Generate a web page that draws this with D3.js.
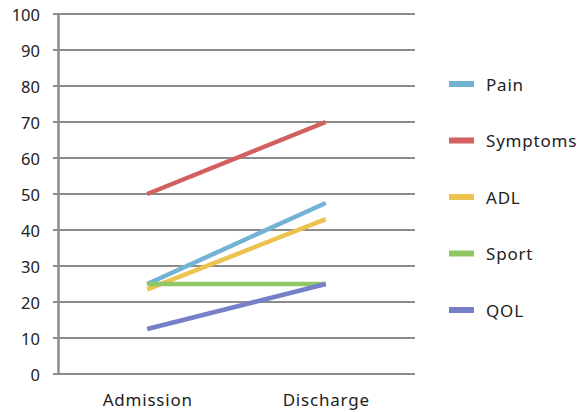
<!DOCTYPE html>
<html>
<head>
<meta charset="utf-8">
<script src="https://cdn.jsdelivr.net/npm/d3@7"></script>
<style>
  html, body { margin: 0; padding: 0; background: #fff; }
  svg { display: block; }
  text { font-family: "Noto Sans", "DejaVu Sans", sans-serif; fill: #222; }
</style>
</head>
<body>
<svg id="chart" width="587" height="412"></svg>
<script>
// Categories on the x axis
const categories = ["Admission", "Discharge"];

// Series names and their scores at each category
const seriesNames = ["Pain", "Symptoms", "ADL", "Sport", "QOL"];
const painValues = [25, 47.5];
const symptomsValues = [50, 70];
const adlValues = [23.5, 43];
const sportValues = [25, 25];
const qolValues = [12.5, 25];

// Y axis ticks
const yTicks = [0, 10, 20, 30, 40, 50, 60, 70, 80, 90, 100];

const colors = ["#72b2d4", "#d1605e", "#edc34f", "#8fc864", "#7580c9"];

const series = [painValues, symptomsValues, adlValues, sportValues, qolValues]
  .map((values, i) => ({ name: seriesNames[i], values, color: colors[i] }));

const svg = d3.select("#chart");
const margin = { left: 58, right: 172, top: 14, bottom: 38 };
const width = 587, height = 412;

const x = d3.scalePoint()
  .domain(categories)
  .range([margin.left, width - margin.right])
  .padding(0.5);

const y = d3.scaleLinear()
  .domain([0, 100])
  .range([height - margin.bottom, margin.top]);

// Horizontal gridlines
svg.append("g")
  .selectAll("line")
  .data(yTicks)
  .join("line")
  .attr("x1", margin.left - 5)
  .attr("x2", width - margin.right)
  .attr("y1", d => y(d))
  .attr("y2", d => y(d))
  .attr("stroke", "#8c8c8c")
  .attr("stroke-width", 2);

// Y axis
const yAxis = svg.append("g")
  .attr("transform", `translate(${margin.left},0)`)
  .call(d3.axisLeft(y).tickValues(yTicks).tickSize(0).tickPadding(18));
yAxis.select(".domain").attr("stroke", "#8c8c8c").attr("stroke-width", 2.5);
yAxis.selectAll("text")
  .style("font-size", "16.5px")
  .style("font-family", "\"Noto Sans\", sans-serif")
  .attr("dy", "0.4em")
  .attr("fill", "#222");

// X axis labels
const xAxis = svg.append("g")
  .attr("transform", `translate(0,${y(0)})`)
  .call(d3.axisBottom(x).tickSize(0).tickPadding(20));
xAxis.select(".domain").remove();
xAxis.selectAll("text")
  .style("font-size", "17px")
  .style("letter-spacing", "0.8px")
  .style("font-family", "\"Noto Sans\", sans-serif")
  .attr("fill", "#222");

// Series lines
const line = d3.line()
  .x((d, i) => x(categories[i]))
  .y(d => y(d));

svg.append("g")
  .selectAll("path")
  .data(series)
  .join("path")
  .attr("d", d => line(d.values))
  .attr("fill", "none")
  .attr("stroke", d => d.color)
  .attr("stroke-width", 4.5);

// Legend
const legend = svg.append("g")
  .selectAll("g")
  .data(series)
  .join("g")
  .attr("transform", (d, i) => `translate(449,${84 + i * 56.5})`);

legend.append("rect")
  .attr("x", 0)
  .attr("y", -3)
  .attr("width", 25)
  .attr("height", 6)
  .attr("fill", d => d.color);

legend.append("text")
  .attr("x", 37)
  .attr("y", 0)
  .attr("dy", "0.4em")
  .style("font-size", "17px")
  .style("letter-spacing", "0.8px")
  .text(d => d.name);
</script>
</body>
</html>
